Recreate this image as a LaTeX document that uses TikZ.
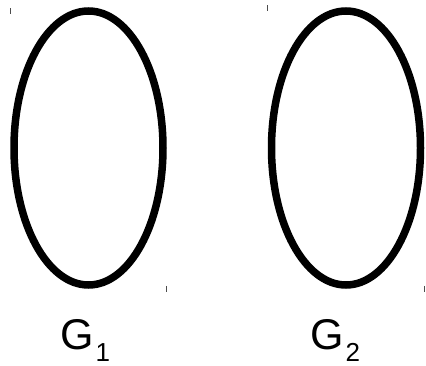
\documentclass[tikz,border=0pt]{standalone}
\usepackage{fontspec}
\setmainfont{Liberation Sans}
\usepackage{tikz}
\usetikzlibrary{positioning,shapes.geometric}

\begin{document}
\begin{tikzpicture}[
  x=1pt,y=1pt,
  graph/.style={draw,ellipse,line width=7.5pt,minimum width=149pt,minimum height=274pt,inner sep=0pt},
  tick/.style={draw=black!70,line width=0.9pt},
  lbl/.style={anchor=base west,inner sep=0pt,font=\fontsize{43}{44}\selectfont}
]
  \useasboundingbox (0,0) rectangle (426,365);
  \node[graph] (g1) at (88.5,217) {};
  \node[graph] (g2) at (346,217) {};

  % corner marks
  \coordinate (g1tl) at (g1.west |- g1.north);
  \coordinate (g1br) at (g1.east |- g1.south);
  \coordinate (g2tl) at (g2.west |- g2.north);
  \coordinate (g2br) at (g2.east |- g2.south);
  \draw[tick] ([yshift=-1pt]g1tl) -- ([yshift=-7pt]g1tl);
  \draw[tick] ([yshift=3pt]g1br) -- ([yshift=-3pt]g1br);
  \draw[tick] ([yshift=2pt]g2tl) -- ([yshift=-4pt]g2tl);
  \draw[tick] ([yshift=3pt]g2br) -- ([yshift=-3pt]g2br);

  \node[lbl] (l1) at (60,16) {G\hspace{2pt}\raisebox{-12pt}{\fontsize{26}{27}\selectfont 1}};
  \node[lbl] (l2) at (310,16) {G\hspace{2pt}\raisebox{-12pt}{\fontsize{26}{27}\selectfont 2}};
\end{tikzpicture}
\end{document}
